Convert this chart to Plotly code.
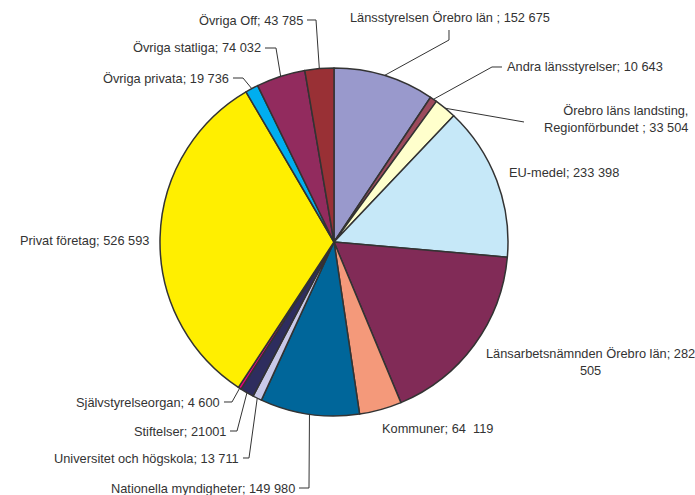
import math
import plotly.graph_objects as go

labels = [
    "Länsstyrelsen Örebro län ", "Andra länsstyrelser", "Örebro läns landsting,<br>Regionförbundet ",
    "EU-medel", "Länsarbetsnämnden Örebro län", "Kommuner", "Nationella myndigheter",
    "Universitet och högskola", "Stiftelser", "Självstyrelseorgan", "Privat företag",
    "Övriga privata", "Övriga statliga", "Övriga Off",
]
values = [152675, 10643, 33504, 233398, 282505, 64119, 149980, 13711, 21001, 4600,
          526593, 19736, 74032, 43785]
value_text = ["152 675", "10 643", "33 504", "233 398", "282<br>505", "64  119", "149 980",
              "13 711", "21001", "4 600", "526 593", "19 736", "74 032", "43 785"]
colors = ["#9999CC", "#9C4A5C", "#FFFFCC", "#C6E8F8", "#812B57", "#F4997A", "#00669A",
          "#C9C9E8", "#2E2D5E", "#E6007E", "#FFEF00", "#00AEEF", "#922B5E", "#993035"]

W, H = 695, 495
CX, CY, R = 334, 242, 174  # pixel coords

# label layout (px): (text x, text y, xanchor, elbow points or None)
label_layout = [
    (450, 17, "center", [(449, 30), (449, 40)]),
    (505, 67, "left", [(502, 67), (492, 67)]),
    (690, 119, "right", [(524, 122)]),
    (507, 172, "left", None),
    (590, 362, "center", None),
    (380, 428, "left", None),
    (297, 488, "right", [(299, 488), (309, 488)]),
    (241, 458, "right", [(243, 458), (249, 458)]),
    (228, 431, "right", [(230, 431), (237, 431)]),
    (222, 402, "right", [(224, 402), (232, 402)]),
    (151, 240, "right", None),
    (231, 78, "right", [(233, 78), (243, 78)]),
    (263, 48, "right", [(265, 48), (276, 48)]),
    (305, 20, "right", [(307, 20), (316, 20)]),
]

def px(x):
    return x / W

def py(y):
    return 1 - y / H

fig = go.Figure(go.Pie(
    labels=labels, values=values, sort=False, direction="clockwise", rotation=0,
    marker=dict(colors=colors, line=dict(color="#333333", width=1.5)),
    textinfo="none", showlegend=False,
    domain=dict(x=[px(CX - R), px(CX + R)], y=[py(CY + R), py(CY - R)]),
))

total = sum(values)
cum = 0
annotations = []
shapes = []
for lab, v, vt, (tx, ty, anchor, elbow) in zip(labels, values, value_text, label_layout):
    mid = (cum + v / 2) / total * 2 * math.pi
    cum += v
    ex = CX + R * math.sin(mid)
    ey = CY - R * math.cos(mid)
    annotations.append(dict(
        x=px(tx), y=py(ty), xref="paper", yref="paper", text=f"{lab}; {vt}",
        showarrow=False, xanchor=anchor, yanchor="middle", align=anchor,
        font=dict(family="Liberation Sans, Arial, sans-serif", size=12.8, color="#333333"),
    ))
    if elbow:
        pts = elbow + [(ex, ey)]
        path = "M " + " L ".join(f"{px(x):.5f},{py(y):.5f}" for x, y in pts)
        shapes.append(dict(type="path", path=path, xref="paper", yref="paper",
                           line=dict(color="#333333", width=1)))

fig.update_layout(
    width=W, height=H, margin=dict(l=0, r=0, t=0, b=0),
    paper_bgcolor="white", plot_bgcolor="white",
    annotations=annotations, shapes=shapes,
)
fig.write_html(
    "out.html",
    config={"displayModeBar": False},
    post_script="document.body.style.margin='0';document.documentElement.style.overflow='hidden';",
)
